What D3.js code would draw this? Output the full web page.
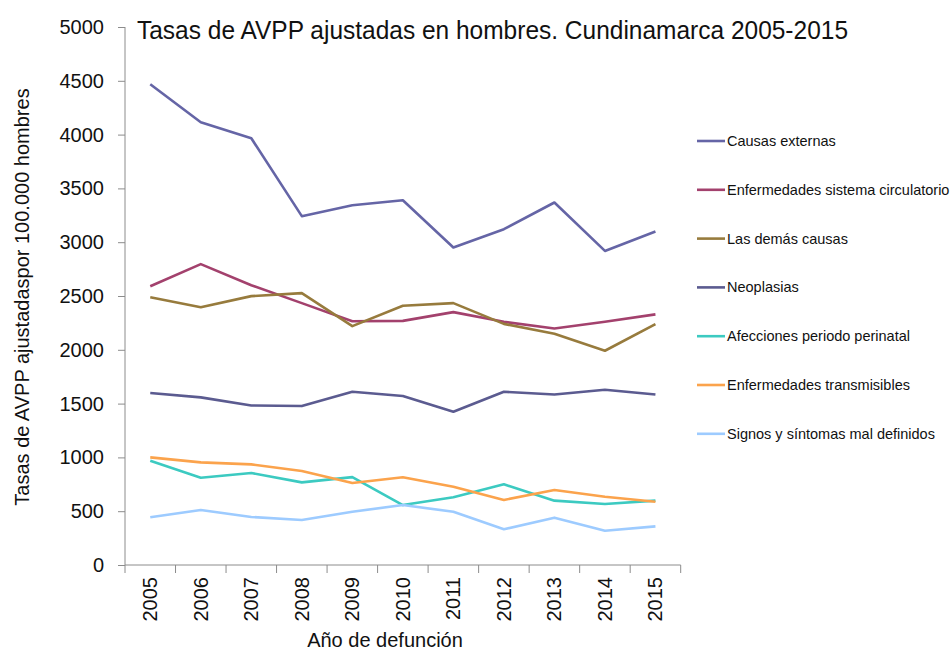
<!DOCTYPE html>
<html>
<head>
<meta charset="utf-8">
<script src="https://cdn.jsdelivr.net/npm/d3@7"></script>
<style>
  body { margin: 0; background: #fff; }
  svg text { font-family: "Liberation Sans Narrow", "Arial Narrow", "Liberation Sans", sans-serif; fill: #111; }
  .axis path, .axis line { stroke: #8c8c8c; }
</style>
</head>
<body>
<script>
'use strict'

const years = ['2005', '2006', '2007', '2008', '2009', '2010', '2011', '2012', '2013', '2014', '2015']
const yTicks = [0, 500, 1000, 1500, 2000, 2500, 3000, 3500, 4000, 4500, 5000]

const causasExternas = [4468, 4115, 3966, 3242, 3344, 3390, 2951, 3121, 3369, 2919, 3099]
const circulatorio = [2591, 2796, 2600, 2434, 2266, 2269, 2350, 2260, 2198, 2260, 2329]
const demasCausas = [2489, 2396, 2499, 2527, 2220, 2409, 2434, 2241, 2149, 1991, 2239]
const neoplasias = [1598, 1558, 1483, 1477, 1610, 1570, 1424, 1610, 1585, 1628, 1585]
const perinatal = [969, 811, 855, 768, 817, 557, 629, 750, 598, 567, 598]
const transmisibles = [1000, 954, 935, 873, 762, 815, 727, 604, 697, 634, 588]
const signos = [443, 511, 446, 418, 495, 557, 495, 332, 440, 319, 359]

const seriesNames = [
  'Causas externas',
  'Enfermedades sistema circulatorio',
  'Las demás causas',
  'Neoplasias',
  'Afecciones periodo perinatal',
  'Enfermedades transmisibles',
  'Signos y síntomas mal definidos'
]
const seriesValues = [causasExternas, circulatorio, demasCausas, neoplasias, perinatal, transmisibles, signos]
const colors = ['#6565a6', '#a3416d', '#977b3d', '#5b5b90', '#3ccac1', '#fba34c', '#9dcbff']

const series = seriesNames.map((name, i) => ({ name, values: seriesValues[i], color: colors[i] }))

const W = 951, H = 652
const margin = {top: 27, right: 270, bottom: 87, left: 125}
const width = W - margin.left - margin.right
const height = H - margin.top - margin.bottom

const svg = d3.select('body').append('svg')
  .attr('width', W)
  .attr('height', H)

const g = svg.append('g')
  .attr('transform', `translate(${margin.left},${margin.top})`)

const x = d3.scaleBand()
  .domain(years)
  .range([0, 555.7])

const y = d3.scaleLinear()
  .domain([0, 5000])
  .range([height, 0])

// x axis with ticks between categories
const xAxis = g.append('g')
  .attr('class', 'axis')
  .attr('transform', `translate(0,${height})`)

xAxis.append('line')
  .attr('x1', 0).attr('x2', x.range()[1])
  .attr('y1', 0).attr('y2', 0)

xAxis.selectAll('.tk')
  .data(years.concat(['end']))
  .enter().append('line')
    .attr('class', 'tk')
    .attr('x1', (d, i) => i * x.step())
    .attr('x2', (d, i) => i * x.step())
    .attr('y1', 0)
    .attr('y2', 8)

xAxis.selectAll('text')
  .data(years)
  .enter().append('text')
    .attr('transform', d => `translate(${x(d) + x.bandwidth() / 2 + 7},12) rotate(-90)`)
    .style('text-anchor', 'end')
    .style('font-size', '20px')
    .text(d => d)

const yAxis = g.append('g')
  .attr('class', 'axis')
  .call(d3.axisLeft(y).tickValues(yTicks).tickSize(7).tickPadding(14).tickFormat(d3.format('d')))

yAxis.select('.domain').attr('d', `M0,0V${height}`)
yAxis.selectAll('text')
  .style('font-size', '20px')
  .style('fill', '#111')

// axis titles
svg.append('text')
  .attr('transform', 'translate(29,297) rotate(-90)')
  .style('text-anchor', 'middle')
  .style('font-size', '20px')
  .text('Tasas de AVPP ajustadaspor 100.000 hombres')

svg.append('text')
  .attr('x', 385)
  .attr('y', 647)
  .style('text-anchor', 'middle')
  .style('font-size', '20px')
  .text('Año de defunción')

svg.append('text')
  .attr('x', 137)
  .attr('y', 39)
  .attr('textLength', 711)
  .attr('lengthAdjust', 'spacingAndGlyphs')
  .style('font-size', '26px')
  .text('Tasas de AVPP ajustadas en hombres. Cundinamarca 2005-2015')

// lines
const line = d3.line()
  .x((d, i) => x(years[i]) + x.bandwidth() / 2)
  .y(d => y(d))

g.selectAll('.series')
  .data(series)
  .enter().append('path')
    .attr('class', 'series')
    .attr('d', s => line(s.values))
    .style('fill', 'none')
    .style('stroke', s => s.color)
    .style('stroke-width', 2.6)
    .style('stroke-linejoin', 'round')

// legend
const legend = svg.selectAll('.legend')
  .data(series)
  .enter().append('g')
    .attr('class', 'legend')
    .attr('transform', (d, i) => `translate(697,${141 + i * 48.8})`)

legend.append('line')
  .attr('x1', 0).attr('x2', 28)
  .attr('y1', 0).attr('y2', 0)
  .style('stroke', d => d.color)
  .style('stroke-width', 2.6)

legend.append('text')
  .attr('x', 30)
  .attr('y', 0)
  .attr('dy', '0.35em')
  .style('font-size', '14.5px')
  .text(d => d.name)
</script>
</body>
</html>
